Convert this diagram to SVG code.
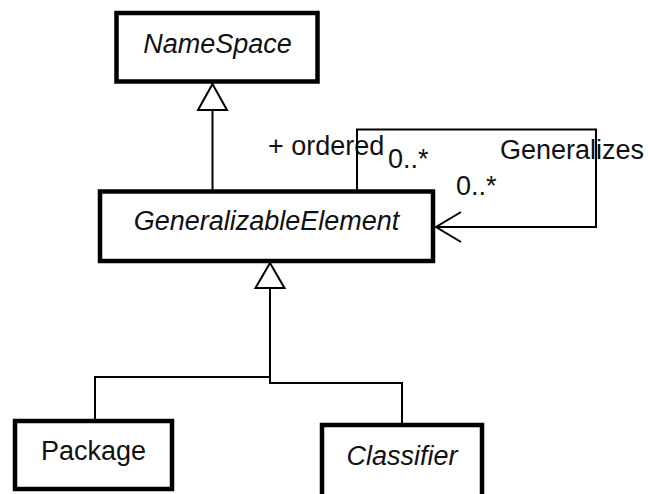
<svg xmlns="http://www.w3.org/2000/svg" width="648" height="494" viewBox="0 0 648 494">
<style>
.box{fill:#fff;stroke:#000;stroke-width:4.5}
.t{font-family:"Liberation Sans",Arial,sans-serif;font-size:27px;fill:#111}
.it{font-style:italic}
.c{text-anchor:middle}
.ln{fill:none;stroke:#000;stroke-width:2}
.tri{fill:#fff;stroke:#000;stroke-width:2}
</style>
<rect width="648" height="494" fill="#fff"/>
<g id="NameSpace">
<rect class="box" x="116.5" y="13" width="201" height="68.5"/>
<text class="t it c" x="217.5" y="53">NameSpace</text>
</g>
<g id="GeneralizableElement">
<rect class="box" x="100" y="191.5" width="333" height="69.5"/>
<text class="t it c" x="266.5" y="230">GeneralizableElement</text>
</g>
<g id="Package">
<rect class="box" x="15" y="421" width="157" height="68"/>
<text class="t c" x="93.5" y="460">Package</text>
</g>
<g id="Classifier">
<rect class="box" x="322" y="425" width="160" height="80"/>
<text class="t it c" x="402" y="465">Classifier</text>
</g>
<g id="connectors">
<text class="t" x="268" y="155">+ ordered</text>
<text class="t" x="388" y="168">0..*</text>
<text class="t" x="500" y="159">Generalizes</text>
<text class="t" x="456" y="195">0..*</text>
<path class="ln" d="M212.5,110 V190"/>
<polygon class="tri" points="212.5,84 198,110 227,110"/>
<path class="ln" d="M270,288 V383 H402 V423 M270,377 H95 V419"/>
<polygon class="tri" points="270,263 255.5,288 284.5,288"/>
<path class="ln" d="M357,190 V129.5 H596 V227 H436"/>
<path class="ln" d="M461,212 L436,227 L461,242"/>
</g>
</svg>
